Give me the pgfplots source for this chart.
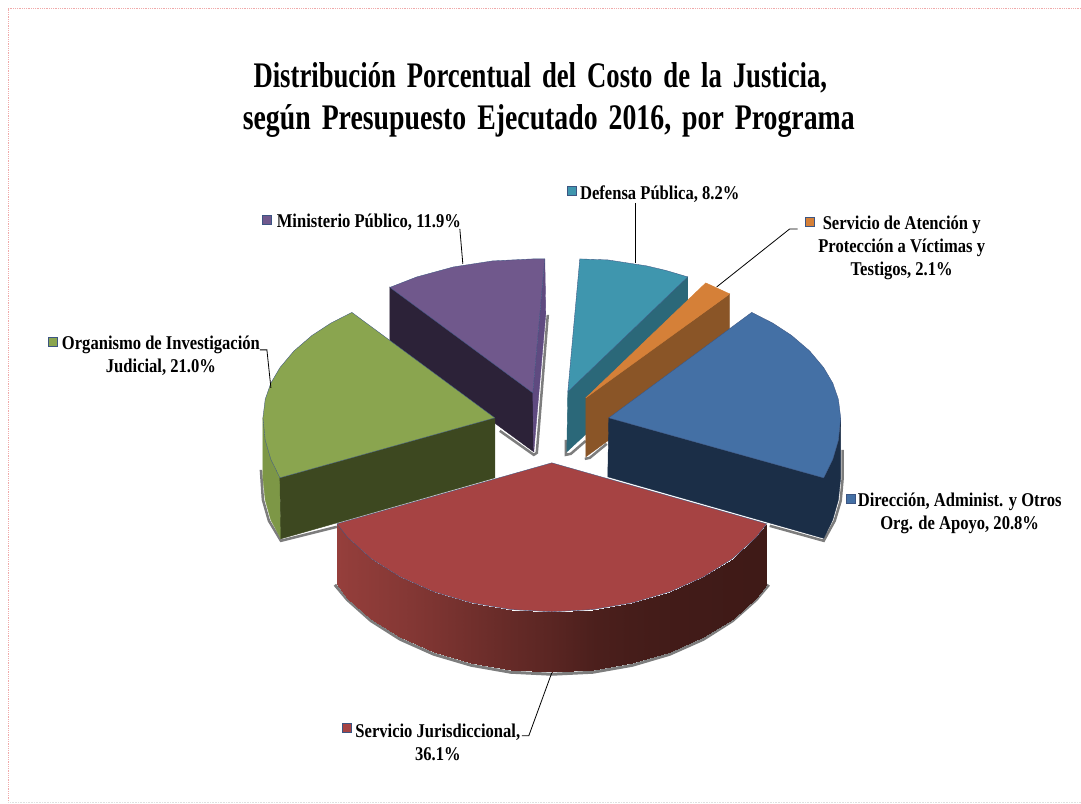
\documentclass[border=0pt]{standalone}
\usepackage{pgfplots}
\pgfplotsset{compat=1.18}
\usepackage{fontspec}
\setmainfont{Liberation Serif}
\newfontfamily\lab[FakeStretch=0.85]{Liberation Serif}
\newfontfamily\tita[FakeStretch=0.742]{Liberation Serif}
\newfontfamily\titb[FakeStretch=0.772]{Liberation Serif}
\definecolor{frameC}{RGB}{240,170,170}
\definecolor{edge}{RGB}{60,85,130}
\definecolor{shad}{RGB}{125,125,125}
\definecolor{redT}{RGB}{166,67,67}
\definecolor{bluT}{RGB}{68,112,165}
\definecolor{bluW}{RGB}{27,46,71}
\definecolor{greT}{RGB}{138,165,79}
\definecolor{greW}{RGB}{61,72,32}
\definecolor{greS}{RGB}{125,151,70}
\definecolor{purT}{RGB}{112,88,140}
\definecolor{purW}{RGB}{44,34,56}
\definecolor{purS}{RGB}{95,74,128}
\definecolor{teaT}{RGB}{63,150,174}
\definecolor{teaW}{RGB}{43,104,121}
\definecolor{oraT}{RGB}{213,128,56}
\definecolor{oraW}{RGB}{138,85,39}
\begin{document}
\begin{tikzpicture}
\begin{axis}[
  scale only axis, width=1081pt, height=804pt,
  xmin=0, xmax=1081, ymin=0, ymax=804, y dir=reverse,
  axis lines=none, clip=false,
  colormap={redwall}{rgb255=(63,26,23) rgb255=(150,63,60)},
  point meta min=0, point meta max=100,
]
\path (axis cs:0,0) (axis cs:1081,804);
% ===== frame =====
\addplot[frameC, line width=.8pt, densely dotted] coordinates {(8.5,803) (8.5,8.5) (1081,8.5)};
\addplot[black!12, line width=.6pt, densely dotted] coordinates {(8.5,803) (1081,803)};
% ===== purple slice =====
\addplot[shad, line width=2.5pt] coordinates {(500,431) (534,455) (537,453) (548,315)};
\addplot[purW, fill=purW] coordinates {(390,287) (533,393) (534,452) (390,346)} -- cycle;
\addplot[purS, fill=purS] coordinates {(545,259) (546,314) (534,452) (533,393)} -- cycle;
\addplot[edge, fill=purT, line width=.35pt] coordinates {(390,287.5) (417,277) (453.7,267) (492.7,261)
  (533,259) (545,259) (533,393)} -- cycle;
% ===== teal slice =====
\addplot[shad, line width=2.5pt] coordinates {(566,440) (566,455) (571,454) (586,441)};
\addplot[teaW, fill=teaW] coordinates {(688,277) (688,340) (567,452) (568,392)} -- cycle;
\addplot[edge, fill=teaT, line width=.35pt] coordinates {(580,259) (608,260) (647,266) (666,270.5)
  (688,277) (568,392)} -- cycle;
% ===== orange slice =====
\addplot[shad, line width=2.5pt] coordinates {(585,459) (590,458) (607,444)};
\addplot[oraW, fill=oraW] coordinates {(730,294) (586,398) (586,457) (730,352)} -- cycle;
\addplot[oraT, fill=oraT] coordinates {(706,283) (730,294) (586,398)} -- cycle;
% ===== blue slice =====
\addplot[shad, line width=2.5pt] coordinates {(770,526) (824,541) (835,521) (841,501) (843,478) (843,450)};
\addplot[bluW, fill=bluW] coordinates {(609,418) (824,478) (833,459.4) (838.7,440.3) (841,418) (841,478)
  (838.7,500) (833,520) (824,538.5) (608,477)} -- cycle;
\addplot[edge, fill=bluT, line width=.35pt] coordinates {(752,312.5) (773,323.2) (791.8,335.5) (809.9,351)
  (824,367.8) (833.1,383.3) (838.7,399.4) (841,418) (838.7,440.3) (833.1,459.4) (824,478) (609,418)} -- cycle;
% ===== green slice =====
\addplot[shad, line width=2.5pt] coordinates {(261,470) (263,500) (269,521) (281,541) (337,527)};
\addplot[greS, fill=greS] coordinates {(263,418) (265.3,440.3) (270.9,459.4) (280,478) (281,539)
  (270.9,520) (265.3,500) (263,478)} -- cycle;
\addplot[greW, fill=greW] coordinates {(495,418) (495,478) (281,539) (280,478)} -- cycle;
\addplot[edge, fill=greT, line width=.35pt] coordinates {(352,312.5) (331,323.2) (312.2,335.5) (294.1,351)
  (280,367.8) (270.9,383.3) (265.3,399.4) (263,418) (265.3,440.3) (270.9,459.4) (280,478) (495,418)} -- cycle;
% ===== red slice =====
\addplot[shad, line width=3pt] coordinates {(335,585) (347.6,600) (371.2,621) (400.3,639.5) (434,654.5)
  (471.3,665.5) (511,672.5) (552,674.5) (593,672.5) (632.7,665.5) (670,654.5) (703.7,639.5)
  (732.8,621) (756.4,600) (769,585)};
\addplot[surf, shader=interp, mesh/rows=2, mesh/cols=15, point meta=explicit] table[meta=m] {
x y m
337 524 100
347.6 537.5 96
371.2 558.8 90
400.3 577.1 82
434 592 71
471.3 603 58
511 609.8 44
552 612 31
593 609.8 15
632.7 603 8
670 592 4
703.7 577.1 2
732.8 558.8 1
756.4 537.5 0
767 524 0
337 584 100
347.6 598 96
371.2 619 90
400.3 637.5 82
434 652.5 71
471.3 663.5 58
511 670.5 44
552 672.5 31
593 670.5 15
632.7 663.5 8
670 652.5 4
703.7 637.5 2
732.8 619 1
756.4 598 0
767 584 0
};
\addplot[edge, fill=redT, line width=.35pt] coordinates {(552,463) (767,524) (756.4,537.5) (732.8,558.8)
  (703.7,577.1) (670,592) (632.7,603) (593,609.8) (552,612) (511,609.8) (471.3,603) (434,592)
  (400.3,577.1) (371.2,558.8) (347.6,537.5) (337,524)} -- cycle;
% ===== leader lines =====
\addplot[black, line width=.8pt] coordinates {(460,229) (463,264)};
\addplot[black, line width=.8pt] coordinates {(260,350) (267,350) (271,388)};
\addplot[black, line width=.8pt] coordinates {(635.5,203) (635.5,263)};
\addplot[black, line width=.8pt] coordinates {(798,229) (790,229) (717,287)};
\addplot[black, line width=.8pt] coordinates {(552,673) (529,736) (522,736)};
% ===== legend keys =====
\addplot[only marks, mark=square*, mark size=4.5pt, mark options={draw=edge, fill=purT}] coordinates {(267,220)};
\addplot[only marks, mark=square*, mark size=4.5pt, mark options={draw=edge, fill=teaT}] coordinates {(572,191)};
\addplot[only marks, mark=square*, mark size=4.5pt, mark options={draw=edge, fill=oraT}] coordinates {(810,222)};
\addplot[only marks, mark=square*, mark size=4.5pt, mark options={draw=edge, fill=bluT}] coordinates {(851,499)};
\addplot[only marks, mark=square*, mark size=4.5pt, mark options={draw=edge, fill=redT}] coordinates {(347,728)};
\addplot[only marks, mark=square*, mark size=4.5pt, mark options={draw=edge, fill=greT}] coordinates {(53,342)};
% ===== texts =====
\node[font=\bfseries\fontsize{36}{42}\selectfont, align=center, inner sep=0pt] at (axis cs:549,100)
  {{\tita\bfseries\spaceskip=11pt Distribución Porcentual del Costo de la Justicia,}\rule{17pt}{0pt}\\
   {\titb\bfseries\spaceskip=11pt según Presupuesto Ejecutado 2016, por Programa}};
\tikzset{lbl/.style={font=\lab\bfseries\fontsize{19.5}{23}\selectfont, align=center, inner sep=0pt, text=black}}
\node[lbl] at (axis cs:369,222) {Ministerio Público, 11.9\%};
\node[lbl] at (axis cs:660,194) {Defensa Pública, 8.2\%};
\node[lbl] at (axis cs:902,248) {Servicio de Atención y\\ Protección a Víctimas y\\ Testigos, 2.1\%};
\node[lbl] at (axis cs:960,514) {Dirección, Administ. y Otros\\ Org. de Apoyo, 20.8\%};
\node[lbl] at (axis cs:438,743) {Servicio Jurisdiccional,\\ 36.1\%};
\node[lbl] at (axis cs:161,356) {Organismo de Investigación\\ Judicial, 21.0\%};
\end{axis}
\end{tikzpicture}
\end{document}
